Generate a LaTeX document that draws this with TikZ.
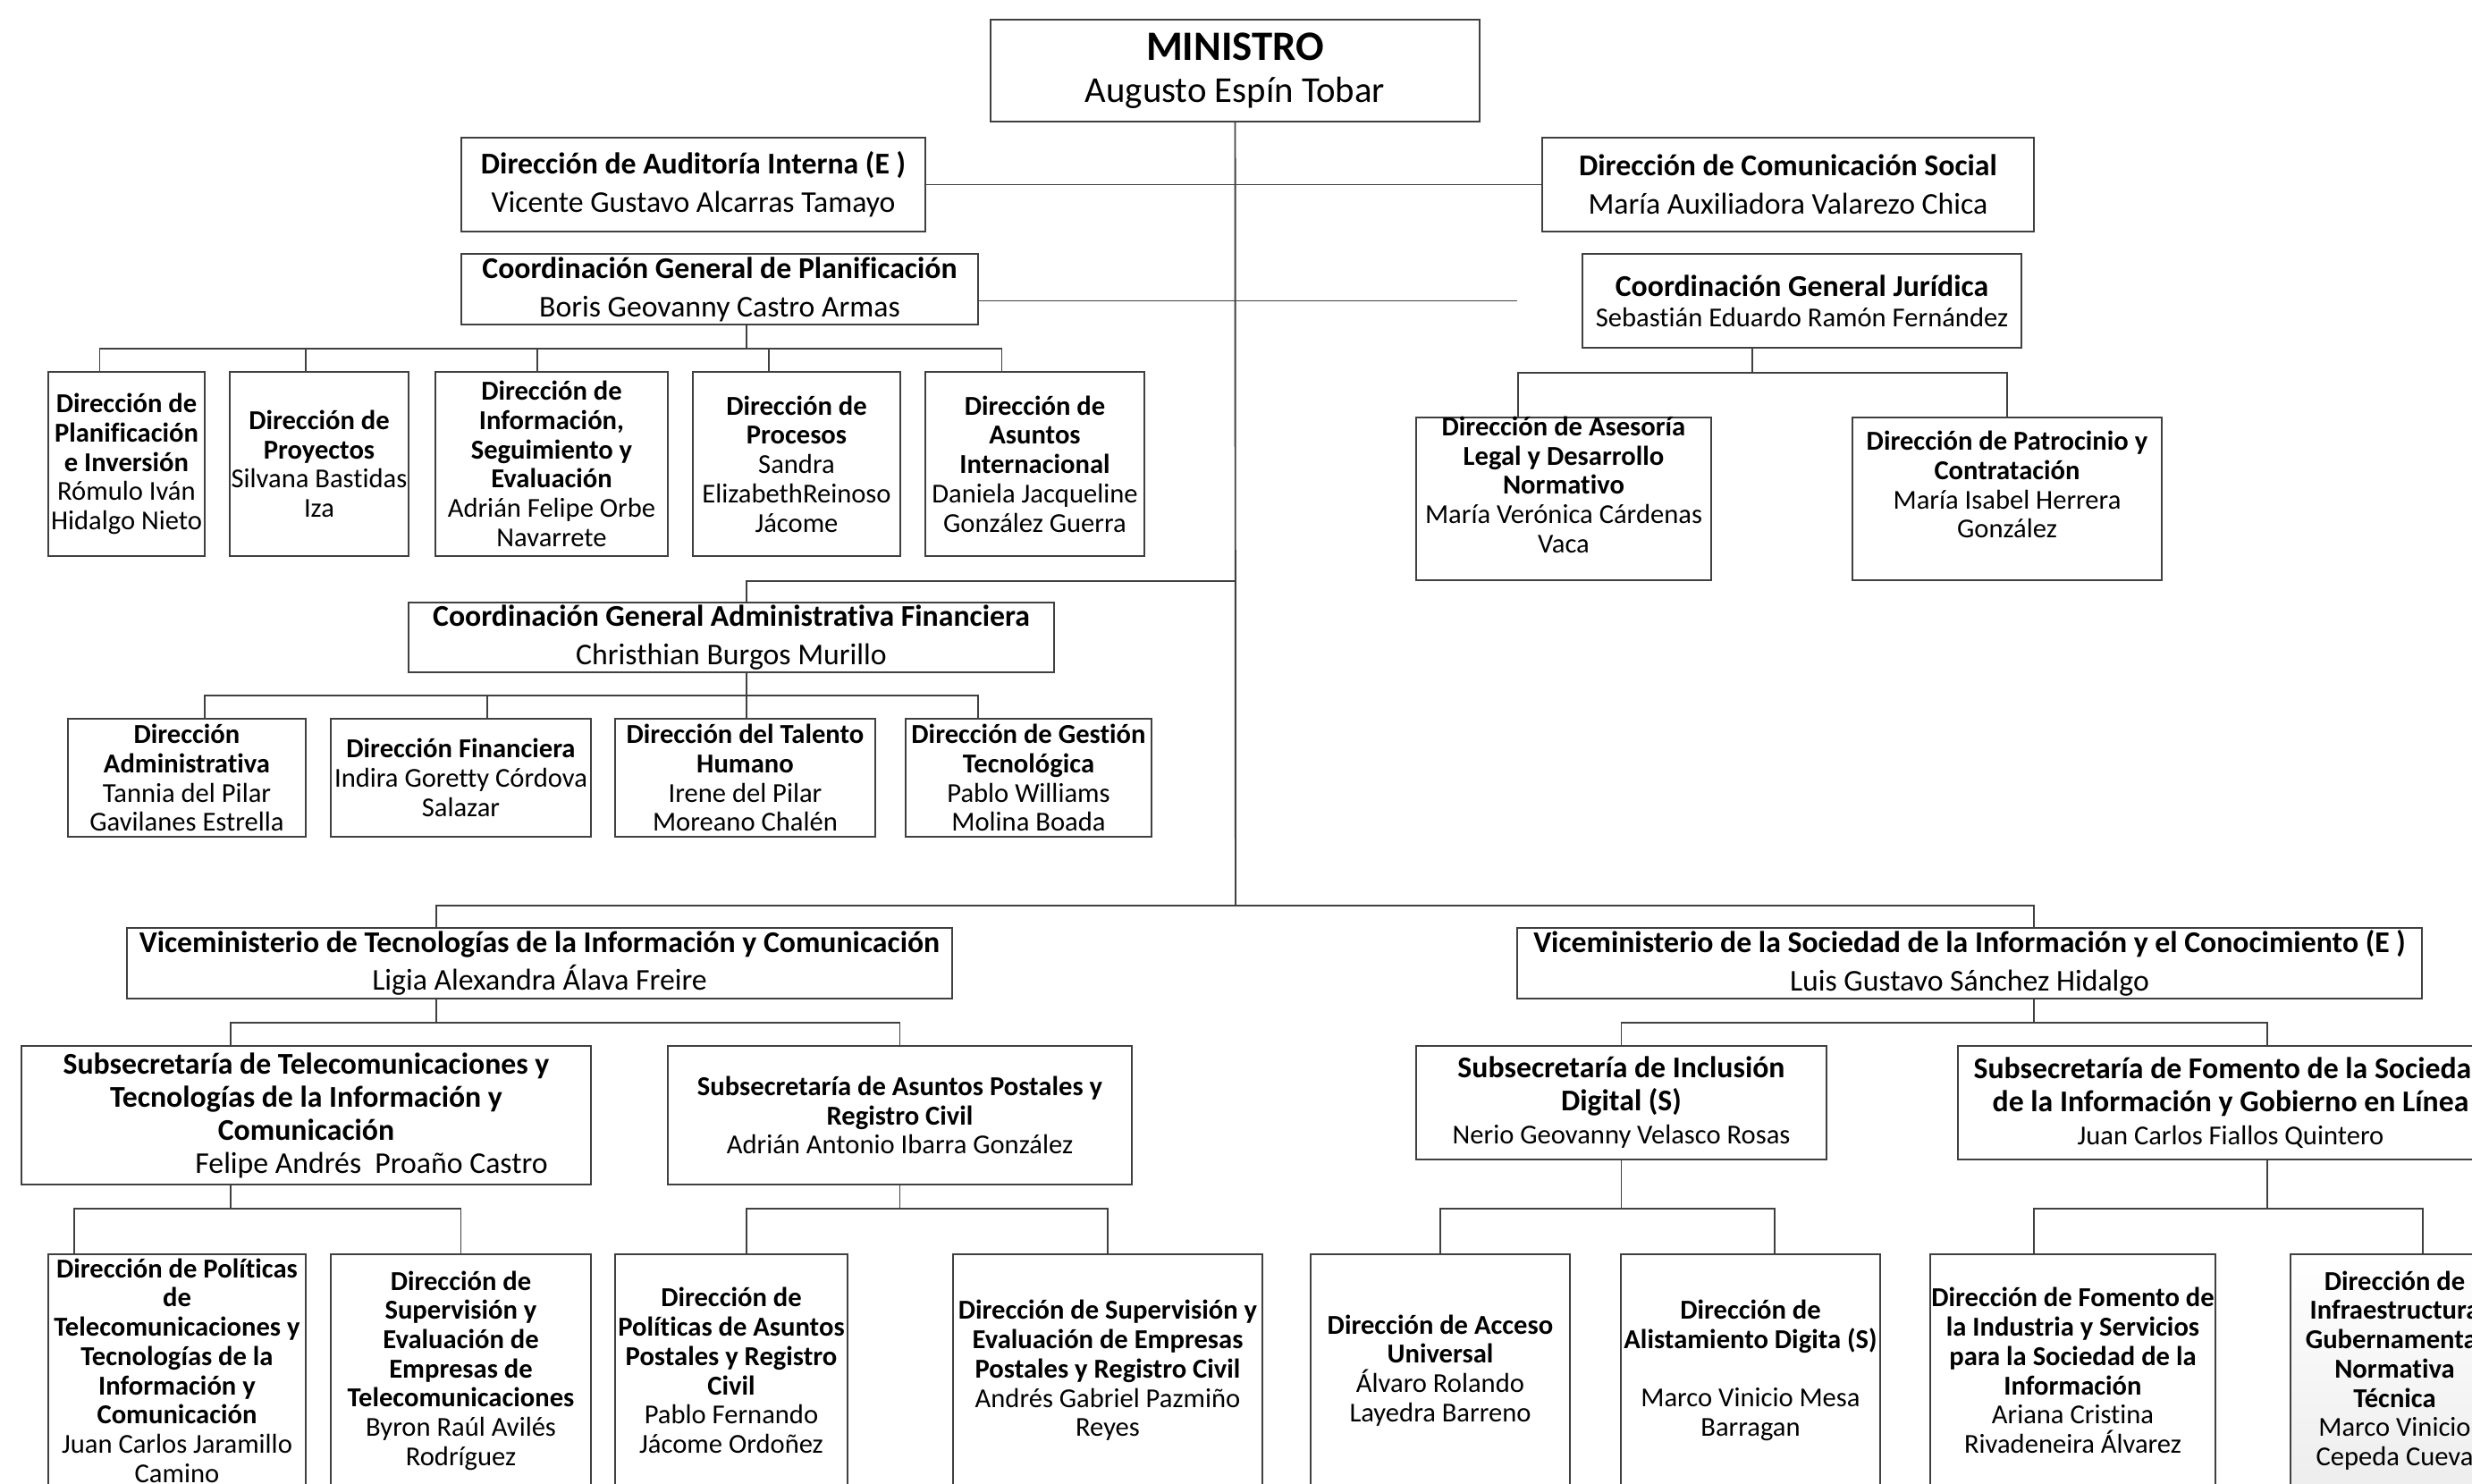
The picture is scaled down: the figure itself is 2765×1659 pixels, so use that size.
\documentclass[tikz,border=0pt]{standalone}
\usepackage{fontspec}
\setmainfont{Carlito}[Ligatures=NoCommon]
\definecolor{linegray}{HTML}{404040}
\newcommand{\fmin}{\fontsize{11.6}{13.5}\selectfont}
\newcommand{\fmint}{\fontsize{13.3}{13.5}\selectfont}
\newcommand{\fbig}{\fontsize{9.6}{12.2}\selectfont}
\newcommand{\fsub}{\fontsize{9.6}{10.5}\selectfont}
\newcommand{\fsmall}{\fontsize{8.7}{9.3}\selectfont}
\tikzset{
  unit/.style={draw=linegray, line width=0.55pt, inner sep=0pt, align=center},
  lvl/.style={unit, font=\fbig},
  sub/.style={unit, font=\fsub},
  dir/.style={unit, font=\fsmall},
  link/.style={draw=linegray, line width=0.55pt},
}

\begin{document}
\begin{tikzpicture}[x=0.01cm, y=-0.01cm]
\useasboundingbox (0,0) rectangle (2765,1659);
\clip (0,0) rectangle (2765,1659);

% ministro
\node[unit, font=\fmin, minimum width=5.47cm, minimum height=1.14cm] (min) at (1381.5,79)
  {{\fmint\textbf{MINISTRO}}\\Augusto Espín Tobar};

% asesoria y apoyo
\node[lvl, minimum width=5.19cm, minimum height=1.05cm] (aud) at (775.5,206.5)
  {\textbf{Dirección de Auditoría Interna (E )}\\Vicente Gustavo Alcarras Tamayo};
\node[lvl, minimum width=5.50cm, minimum height=1.05cm] (com) at (2000,206.5)
  {\textbf{Dirección de Comunicación Social}\\María Auxiliadora Valarezo Chica};
\node[lvl, minimum width=5.78cm, minimum height=0.79cm] (pl) at (805,323.5)
  {\textbf{Coordinación General de Planificación}\\Boris Geovanny Castro Armas};
\node[unit, font=\fontsize{8.7}{9.8}\selectfont, minimum width=4.91cm, minimum height=1.05cm] (jur) at (2015.5,336.5)
  {{\fbig\textbf{Coordinación General Jurídica}}\\Sebastián Eduardo Ramón Fernández};

% planificacion
\node[dir, minimum width=1.75cm, minimum height=2.06cm] (p1) at (141.5,519)
  {\textbf{Dirección de}\\\textbf{Planificación}\\\textbf{e Inversión}\\Rómulo Iván\\Hidalgo Nieto};
\node[dir, minimum width=2.00cm, minimum height=2.06cm] (p2) at (357,519)
  {\textbf{Dirección de}\\\textbf{Proyectos}\\Silvana Bastidas\\Iza};
\node[dir, minimum width=2.60cm, minimum height=2.06cm] (p3) at (617,519)
  {\textbf{Dirección de}\\\textbf{Información,}\\\textbf{Seguimiento y}\\\textbf{Evaluación}\\Adrián Felipe Orbe\\Navarrete};
\node[dir, minimum width=2.32cm, minimum height=2.06cm] (p4) at (891,519)
  {\textbf{Dirección de}\\\textbf{Procesos}\\Sandra\\ElizabethReinoso\\Jácome};
\node[dir, minimum width=2.45cm, minimum height=2.06cm] (p5) at (1157.5,519)
  {\textbf{Dirección de}\\\textbf{Asuntos}\\\textbf{Internacional}\\Daniela Jacqueline\\González Guerra};

% juridica
\node[dir, minimum width=3.30cm, minimum height=1.82cm] (j1) at (1749,558)
  {\raisebox{0.08cm}[0pt][0pt]{\parbox[c]{3.3cm}{\centering\textbf{Dirección de Asesoría}\\\textbf{Legal y Desarrollo}\\\textbf{Normativo}\\María Verónica Cárdenas\\Vaca}}};
\node[dir, minimum width=3.46cm, minimum height=1.82cm] (j2) at (2245,558)
  {\raisebox{0.08cm}[0pt][0pt]{\parbox[c]{3.46cm}{\centering\textbf{Dirección de Patrocinio y}\\\textbf{Contratación}\\María Isabel Herrera\\González}}};

% administrativa financiera
\node[lvl, minimum width=7.22cm, minimum height=0.78cm] (cgaf) at (818,713)
  {\textbf{Coordinación General Administrativa Financiera}\\Christhian Burgos Murillo};
\node[dir, minimum width=2.66cm, minimum height=1.32cm] (a1) at (209,870)
  {\textbf{Dirección}\\\textbf{Administrativa}\\Tannia del Pilar\\Gavilanes Estrella};
\node[dir, minimum width=2.91cm, minimum height=1.32cm] (a2) at (515.5,870)
  {\textbf{Dirección Financiera}\\Indira Goretty Córdova\\Salazar};
\node[dir, minimum width=2.91cm, minimum height=1.32cm] (a3) at (833.5,870)
  {\textbf{Dirección del Talento}\\\textbf{Humano}\\Irene del Pilar\\Moreano Chalén};
\node[dir, minimum width=2.75cm, minimum height=1.32cm] (a4) at (1150.5,870)
  {\textbf{Dirección de Gestión}\\\textbf{Tecnológica}\\Pablo Williams\\Molina Boada};

% viceministerios
\node[lvl, minimum width=9.23cm, minimum height=0.79cm] (vtic) at (603.5,1077.5)
  {\textbf{Viceministerio de Tecnologías de la Información y Comunicación}\\Ligia Alexandra Álava Freire};
\node[lvl, minimum width=10.12cm, minimum height=0.79cm] (vsic) at (2203,1077.5)
  {\textbf{Viceministerio de la Sociedad de la Información y el Conocimiento (E )}\\Luis Gustavo Sánchez Hidalgo};

% subsecretarias
\node[sub, minimum width=6.37cm, minimum height=1.55cm] (st) at (342.5,1247.5)
  {\textbf{Subsecretaría de Telecomunicaciones y}\\\textbf{Tecnologías de la Información y}\\\textbf{Comunicación}\\\hspace*{1.46cm}Felipe Andrés\ \ Proaño Castro};
\node[dir, minimum width=5.19cm, minimum height=1.55cm] (sp) at (1006.5,1247.5)
  {\textbf{Subsecretaría de Asuntos Postales y}\\\textbf{Registro Civil}\\Adrián Antonio Ibarra González};
\node[sub, minimum width=4.59cm, minimum height=1.27cm] (si) at (1813.5,1233.5)
  {\textbf{Subsecretaría de Inclusión}\\\textbf{Digital (S)}\\{\fsmall Nerio Geovanny Velasco Rosas}};
\node[sub, minimum width=6.10cm, minimum height=1.27cm] (sf) at (2495,1233.5)
  {\textbf{Subsecretaría de Fomento de la Sociedad}\\\textbf{de la Información y Gobierno en Línea}\\{\fsmall Juan Carlos Fiallos Quintero}};

% direcciones de las subsecretarias
\node[dir, minimum width=2.88cm, minimum height=2.60cm] (c1) at (198,1533)
  {\textbf{Dirección de Políticas}\\\textbf{de}\\\textbf{Telecomunicaciones y}\\\textbf{Tecnologías de la}\\\textbf{Información y}\\\textbf{Comunicación}\\Juan Carlos Jaramillo\\Camino};
\node[dir, minimum width=2.91cm, minimum height=2.60cm] (c2) at (515.5,1533)
  {\textbf{Dirección de}\\\textbf{Supervisión y}\\\textbf{Evaluación de}\\\textbf{Empresas de}\\\textbf{Telecomunicaciones}\\Byron Raúl Avilés\\Rodríguez};
\node[dir, minimum width=2.60cm, minimum height=2.60cm] (c3) at (818,1533)
  {\textbf{Dirección de}\\\textbf{Políticas de Asuntos}\\\textbf{Postales y Registro}\\\textbf{Civil}\\Pablo Fernando\\Jácome Ordoñez};
\node[dir, minimum width=3.46cm, minimum height=2.60cm] (c4) at (1239,1533)
  {\textbf{Dirección de Supervisión y}\\\textbf{Evaluación de Empresas}\\\textbf{Postales y Registro Civil}\\Andrés Gabriel Pazmiño\\Reyes};
\node[dir, minimum width=2.90cm, minimum height=2.60cm] (c5) at (1611,1533)
  {\textbf{Dirección de Acceso}\\\textbf{Universal}\\Álvaro Rolando\\Layedra Barreno};
\node[dir, minimum width=2.90cm, minimum height=2.60cm] (c6) at (1958,1533)
  {\textbf{Dirección de}\\\textbf{Alistamiento Digita (S)}\\[9.3pt]Marco Vinicio Mesa\\Barragan};
\node[dir, minimum width=3.19cm, minimum height=2.60cm] (c7) at (2318.5,1533)
  {\textbf{Dirección de Fomento de}\\\textbf{la Industria y Servicios}\\\textbf{para la Sociedad de la}\\\textbf{Información}\\Ariana Cristina\\Rivadeneira Álvarez};
\node[dir, minimum width=2.33cm, minimum height=2.60cm, top color=white, bottom color=gray!14] (c8) at (2678.5,1533)
  {\textbf{Dirección de}\\\textbf{Infraestructura}\\\textbf{Gubernamental}\\\textbf{Normativa}\\\textbf{Técnica}\\Marco Vinicio\\Cepeda Cueva};

% tronco
\coordinate (hub) at (1382,1013);
\coordinate (cgafjoin) at (1382,650);
\draw[link] (min.south) -- (hub);
\draw[link] (aud.east) -- (aud.east -| hub);
\draw[link] (com.west) -- (com.west -| hub);
\draw[link] (pl.east |- jur.west) -- ([xshift=-0.72cm]jur.west);
\draw[link] ([xshift=0.17cm]cgaf.north) |- (cgafjoin);
\draw[link] ([xshift=-1.155cm]vtic.north) |- (hub);
\draw[link] ([xshift=0.72cm]vsic.north) |- (hub);

% ramas
\draw[link] ([xshift=0.3cm]pl.south) -- ++(0,26) -| ([xshift=-0.30cm]p1.north);
\draw[link] ([xshift=0.3cm]pl.south) -- ++(0,26) -| ([xshift=-0.15cm]p2.north);
\draw[link] ([xshift=0.3cm]pl.south) -- ++(0,26) -| ([xshift=-0.16cm]p3.north);
\draw[link] ([xshift=0.3cm]pl.south) -- ++(0,26) -| ([xshift=-0.31cm]p4.north);
\draw[link] ([xshift=0.3cm]pl.south) -- ++(0,26) -| ([xshift=-0.37cm]p5.north);
\draw[link] ([xshift=-0.555cm]jur.south) -- ++(0,27) -| ([xshift=-0.51cm]j1.north);
\draw[link] ([xshift=-0.555cm]jur.south) -- ++(0,27) -| (j2.north);
\draw[link] ([xshift=0.17cm]cgaf.south) -- ++(0,25) -| ([xshift=0.20cm]a1.north);
\draw[link] ([xshift=0.17cm]cgaf.south) -- ++(0,25) -| ([xshift=0.295cm]a2.north);
\draw[link] ([xshift=0.17cm]cgaf.south) -- ++(0,25) -| ([xshift=0.015cm]a3.north);
\draw[link] ([xshift=0.17cm]cgaf.south) -- ++(0,25) -| ([xshift=-0.565cm]a4.north);
\draw[link] ([xshift=-1.155cm]vtic.south) -- ++(0,26) -| ([xshift=-0.845cm]st.north);
\draw[link] ([xshift=-1.155cm]vtic.south) -- ++(0,26) -| (sp.north);
\draw[link] ([xshift=0.72cm]vsic.south) -- ++(0,26) -| (si.north);
\draw[link] ([xshift=0.72cm]vsic.south) -- ++(0,26) -| ([xshift=0.41cm]sf.north);
\draw[link] ([xshift=-0.845cm]st.south) -- ++(0,26) -| ([xshift=-1.15cm]c1.north);
\draw[link] ([xshift=-0.845cm]st.south) -- ++(0,26) -| (c2.north);
\draw[link] (sp.south) -- ++(0,26) -| ([xshift=0.17cm]c3.north);
\draw[link] (sp.south) -- ++(0,26) -| (c4.north);
\draw[link] (si.south) -- ++(0,54) -| (c5.north);
\draw[link] (si.south) -- ++(0,54) -| ([xshift=0.27cm]c6.north);
\draw[link] ([xshift=0.41cm]sf.south) -- ++(0,54) -| ([xshift=-0.435cm]c7.north);
\draw[link] ([xshift=0.41cm]sf.south) -- ++(0,54) -| ([xshift=0.31cm]c8.north);
\end{tikzpicture}
\end{document}
